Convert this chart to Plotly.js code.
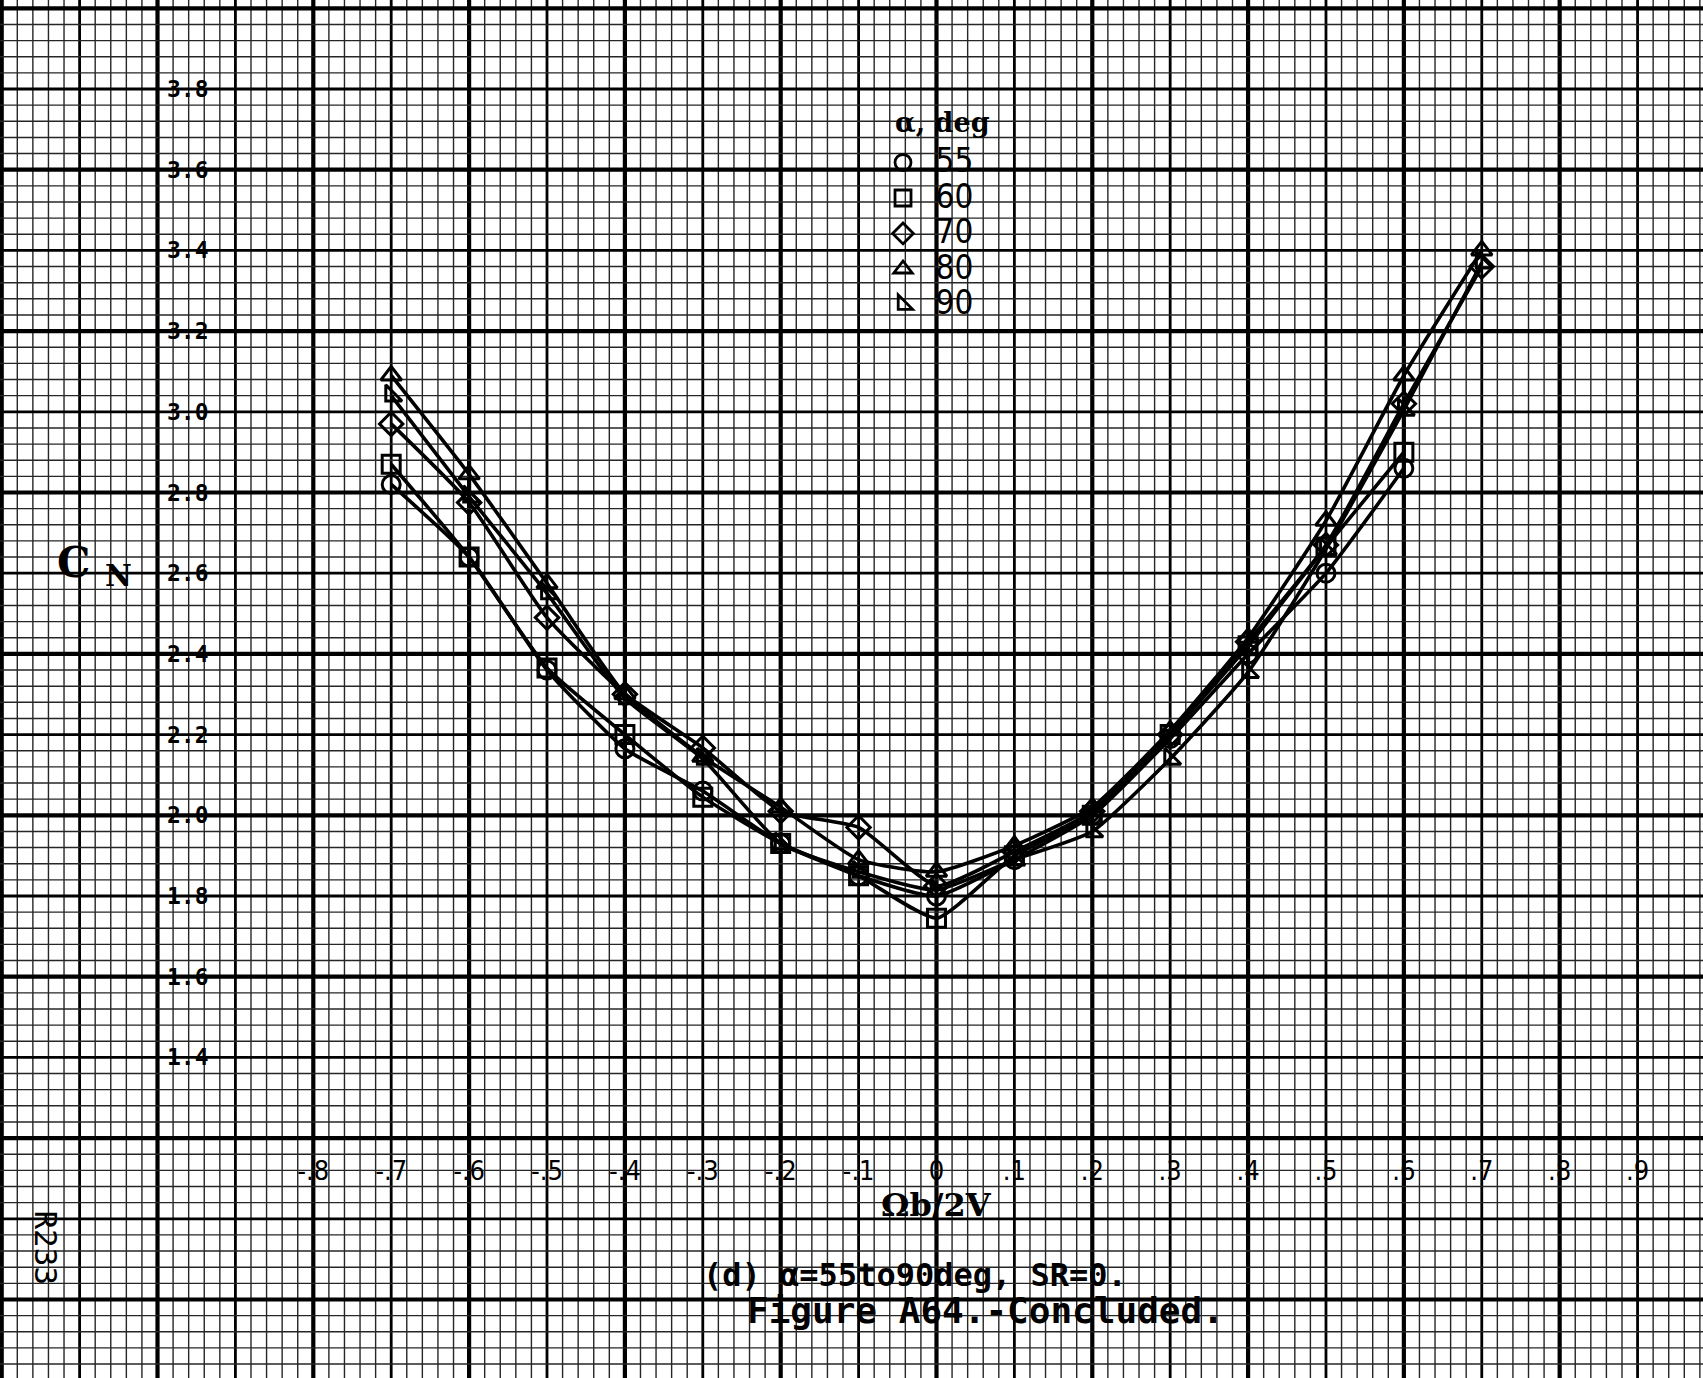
<!DOCTYPE html>
<html>
<head>
<meta charset="utf-8">
<script src="https://cdn.plot.ly/plotly-3.0.1.min.js"></script>
<style>
  html, body { margin: 0; padding: 0; background: #fff; }
  #chart { width: 1703px; height: 1378px; }
</style>
</head>
<body>
<div id="chart"></div>
<script>
// ---- data ----
const OMEGA_B_2V = [-0.7, -0.6, -0.5, -0.4, -0.3, -0.2, -0.1, 0, 0.1, 0.2, 0.3, 0.4, 0.5, 0.6, 0.7];
const CN_ALPHA_55 = [2.82, 2.64, 2.36, 2.165, 2.06, 1.93, 1.85, 1.80, 1.89, 2.00, 2.19, 2.40, 2.60, 2.86, null];
const CN_ALPHA_60 = [2.87, 2.64, 2.365, 2.20, 2.045, 1.93, 1.85, 1.745, 1.90, 2.00, 2.20, 2.42, 2.665, 2.90, null];
const CN_ALPHA_70 = [2.97, 2.775, 2.49, 2.30, 2.167, 2.01, 1.97, 1.825, 1.91, 2.01, 2.20, 2.43, 2.67, 3.02, 3.36];
const CN_ALPHA_80 = [3.09, 2.845, 2.575, 2.30, 2.145, 2.02, 1.89, 1.86, 1.925, 2.02, 2.21, 2.44, 2.73, 3.09, 3.40];
const CN_ALPHA_90 = [3.04, 2.79, 2.55, 2.29, 2.14, 1.93, 1.86, 1.815, 1.89, 1.96, 2.14, 2.355, 2.66, 3.005, 3.37];

const SERIES_NAMES = ['55', '60', '70', '80', '90'];
const SERIES_SYMBOLS = ['circle-open', 'square-open', 'diamond-open', 'triangle-up-open', 'triangle-sw-open'];
const SERIES_VALUES = [CN_ALPHA_55, CN_ALPHA_60, CN_ALPHA_70, CN_ALPHA_80, CN_ALPHA_90];
const LEGEND_TITLE = 'α, deg';

const X_TICK_VALUES = [-0.8, -0.7, -0.6, -0.5, -0.4, -0.3, -0.2, -0.1, 0, 0.1, 0.2, 0.3, 0.4, 0.5, 0.6, 0.7, 0.8, 0.9];
const X_TICK_TEXT = ['-.8', '-.7', '-.6', '-.5', '-.4', '-.3', '-.2', '-.1', '0', '.1', '.2', '.3', '.4', '.5', '.6', '.7', '.8', '.9'];
const Y_TICK_VALUES = [3.8, 3.6, 3.4, 3.2, 3.0, 2.8, 2.6, 2.4, 2.2, 2.0, 1.8, 1.6, 1.4];
const Y_TICK_TEXT = ['3.8', '3.6', '3.4', '3.2', '3.0', '2.8', '2.6', '2.4', '2.2', '2.0', '1.8', '1.6', '1.4'];

// ---- view (graph paper fills the whole page) ----
const X_RANGE = [-1.2022, 0.9840];
const Y_RANGE = [0.6054, 4.0206];
const W = 1703, H = 1378;

function yFrac(v) { return (v - Y_RANGE[0]) / (Y_RANGE[1] - Y_RANGE[0]); }
function xFrac(v) { return (v - X_RANGE[0]) / (X_RANGE[1] - X_RANGE[0]); }

// ---- graph-paper grid (x cell 0.02, y cell 0.04) ----
const shapes = [];
const INK = '#000';
function gridStyle(k) {
  if (k % 10 === 0) return { width: 4.2, color: INK };
  if (k % 5 === 0) return { width: 2.8, color: INK };
  return { width: 1.4, color: '#262626' };
}
for (let i = Math.ceil(X_RANGE[0] / 0.02); i * 0.02 <= X_RANGE[1] + 1e-9; i++) {
  const v = +(i * 0.02).toFixed(4);
  shapes.push({ type: 'line', xref: 'x', yref: 'paper', x0: v, x1: v, y0: 0, y1: 1,
    layer: 'below', line: gridStyle(Math.abs(i)) });
}
for (let j = Math.ceil(Y_RANGE[0] / 0.04); j * 0.04 <= Y_RANGE[1] + 1e-9; j++) {
  const v = +(j * 0.04).toFixed(4);
  shapes.push({ type: 'line', xref: 'paper', yref: 'y', x0: 0, x1: 1, y0: v, y1: v,
    layer: 'below', line: gridStyle(Math.abs(j)) });
}

// ---- traces ----
const traces = [];
SERIES_VALUES.forEach((vals, k) => {
  traces.push({
    type: 'scatter', mode: 'lines+markers',
    x: OMEGA_B_2V, y: vals,
    showlegend: false, cliponaxis: false,
    line: { color: INK, width: 3.6, shape: 'spline', smoothing: 0.5 },
    marker: { symbol: SERIES_SYMBOLS[k], size: 18, color: INK, line: { color: INK, width: 3 } }
  });
});
// legend-only entries (markers only, as in the reference key)
SERIES_NAMES.forEach((nm, k) => {
  traces.push({
    type: 'scatter', mode: 'markers', x: [null], y: [null],
    name: '<span style="font-size:33px">' + nm + '</span>',
    showlegend: true,
    marker: { symbol: SERIES_SYMBOLS[k], size: 18, color: INK, line: { color: INK, width: 2.8 } }
  });
});

const monoBold = { family: 'DejaVu Sans Mono', size: 36, color: INK, weight: 'bold' };

const layout = {
  width: W, height: H,
  margin: { l: 0, r: 0, t: 0, b: 0, pad: 0 },
  paper_bgcolor: '#fff', plot_bgcolor: '#fff',
  showlegend: true,
  xaxis: { range: X_RANGE, showgrid: false, zeroline: false, showline: false, fixedrange: true,
           anchor: 'free', position: yFrac(1.165), side: 'bottom', ticks: '',
           tickmode: 'array', tickvals: X_TICK_VALUES, ticktext: X_TICK_TEXT,
           tickfont: { family: 'DejaVu Sans Condensed', size: 27, color: INK } },
  yaxis: { range: Y_RANGE, showgrid: false, zeroline: false, showline: false, fixedrange: true,
           anchor: 'free', position: xFrac(-0.993), side: 'left', ticklabelposition: 'inside', ticks: '',
           tickmode: 'array', tickvals: Y_TICK_VALUES, ticktext: Y_TICK_TEXT,
           tickfont: { family: 'DejaVu Sans Mono', size: 23, color: INK, weight: 'bold' } },
  legend: {
    x: xFrac(-0.0847), xanchor: 'left', y: 0.8986, yanchor: 'top',
    bgcolor: 'rgba(0,0,0,0)', borderwidth: 0, itemwidth: 55,
    font: { family: 'Liberation Sans Narrow, DejaVu Sans Condensed, sans-serif', size: 25, color: INK },
    tracegroupgap: 0
  },
  shapes: shapes,
  annotations: [
    { xref: 'x', yref: 'y', x: -0.0558, y: 3.7182, xanchor: 'left', yanchor: 'middle', showarrow: false,
      text: '<b>' + LEGEND_TITLE + '</b>', font: { family: 'DejaVu Serif', size: 27, color: INK } },
    { xref: 'x', yref: 'y', x: -1.1316, y: 2.62, xanchor: 'left', yanchor: 'middle', showarrow: false,
      text: '<b>C <sub>N</sub></b>', font: { family: 'DejaVu Serif', size: 42, color: INK } },
    { xref: 'x', yref: 'y', x: 0, y: 1.034, xanchor: 'center', yanchor: 'middle', showarrow: false,
      text: '<b>Ωb/2V</b>', font: { family: 'DejaVu Serif', size: 32, color: INK } },
    { xref: 'x', yref: 'y', x: -0.0276, y: 0.861, xanchor: 'center', yanchor: 'middle', showarrow: false,
      text: '(d) α=55to90deg, SR=0.', font: { family: 'DejaVu Sans Mono', size: 32, color: INK, weight: 'bold' } },
    { xref: 'x', yref: 'y', x: 0.0629, y: 0.7715, xanchor: 'center', yanchor: 'middle', showarrow: false,
      text: 'Figure A64.-Concluded.', font: monoBold },
    { xref: 'x', yref: 'y', x: -1.1437, y: 0.9276, xanchor: 'center', yanchor: 'middle', showarrow: false,
      textangle: 90, text: 'R233', font: { family: 'DejaVu Sans Mono', size: 31, color: INK } }
  ]
};

Plotly.newPlot('chart', traces, layout, { displayModeBar: false, responsive: false });
</script>
</body>
</html>
